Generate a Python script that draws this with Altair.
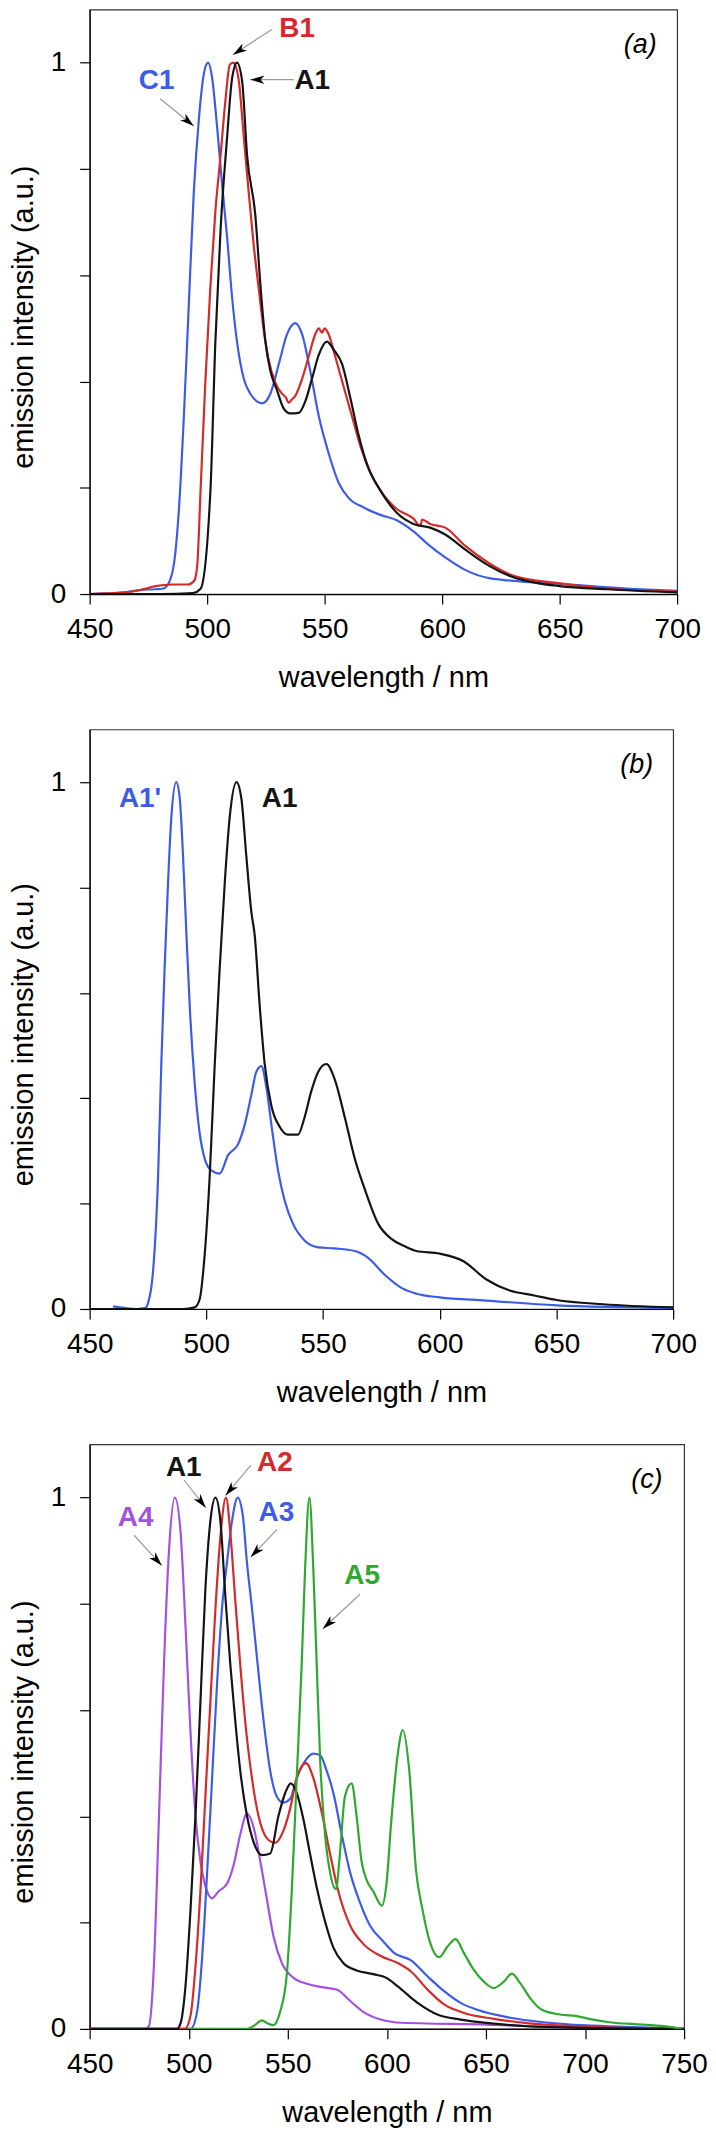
import math
import altair as alt
import pandas as pd

FONT = "Liberation Sans"
BLACK = "#141414"
RED = "#d42a2a"
BLUE = "#3d5ce6"
PURPLE = "#a352e0"
GREEN = "#2ea82e"
GRAY = "#9a9a9a"

# ---------------- panel (a) ----------------
a_A1_wl = [450, 480, 494, 497.2, 501.4, 503.5, 505.7, 508.5, 510.6, 512.7, 514.9, 517.0, 520.5, 522.7,
           524.8, 526.9, 529.7, 532.6, 535.4, 539.0, 541.8, 544.6, 547.5, 551.0, 553.8, 557.4, 560.9,
           564.4, 568.0, 573.7, 580.7, 587.8, 594.9, 601.3, 610, 620, 630, 640, 650, 670, 700]
a_A1_I = [0, 0, 0.002, 0.01, 0.195, 0.475, 0.685, 0.86, 0.97, 1.0, 0.965, 0.825, 0.713, 0.58,
          0.475, 0.42, 0.384, 0.349, 0.34, 0.341, 0.363, 0.405, 0.45, 0.475, 0.46, 0.433, 0.37,
          0.30, 0.244, 0.195, 0.153, 0.132, 0.125, 0.112, 0.083, 0.053, 0.032, 0.021, 0.015, 0.009, 0.003]

a_B1_wl = [450, 465, 472, 478, 485, 492, 494.5, 495.8, 497.2, 499.3, 501.4, 503.5, 505.7, 507.8, 509.6,
           511, 512, 513.5, 515.6, 517.7, 519.8, 522, 524.1, 526.2, 529, 531.9, 533.5, 534.7, 536,
           537.5, 540.4, 543.2, 546, 547.5, 548.9, 550, 551.7, 554.5, 558.1, 561.6, 565.2, 569.4,
           573.7, 580.7, 587.8, 590.7, 591.5, 594.9, 601.3, 610, 620, 630, 650, 670, 700]
a_B1_I = [0, 0.003, 0.008, 0.015, 0.018, 0.018, 0.025, 0.055, 0.195, 0.405, 0.58, 0.72, 0.825, 0.93, 0.996,
          1.0, 0.995, 0.965, 0.86, 0.755, 0.657, 0.573, 0.496, 0.44, 0.398, 0.377, 0.37, 0.36, 0.366,
          0.373, 0.405, 0.447, 0.489, 0.5, 0.492, 0.5, 0.489, 0.447, 0.39, 0.335, 0.279, 0.23,
          0.195, 0.16, 0.142, 0.128, 0.14, 0.132, 0.125, 0.09, 0.058, 0.035, 0.02, 0.01, 0.005]

a_C1_wl = [450, 465, 472, 478, 481, 483, 485.8, 488, 490.1, 492.2, 494.3, 496.5, 498.6, 500.4, 502.1,
           504.2, 506.4, 508.5, 510.6, 512.7, 515.6, 518.4, 523.4, 526.9, 530.5, 534, 537.5, 540.4,
           543.9, 547.5, 551.7, 556, 560.2, 566.6, 573.7, 580.7, 587.8, 594.9, 601.3, 610, 620, 650,
           680, 700]
a_C1_I = [0, 0.003, 0.008, 0.009, 0.01, 0.016, 0.055, 0.16, 0.335, 0.545, 0.755, 0.895, 0.979, 1.0, 0.972,
          0.881, 0.769, 0.671, 0.559, 0.475, 0.405, 0.377, 0.359, 0.377, 0.433, 0.489, 0.51, 0.489,
          0.419, 0.335, 0.265, 0.209, 0.181, 0.163, 0.149, 0.139, 0.118, 0.09, 0.069, 0.045, 0.03, 0.019,
          0.01, 0.006]

a_lab_text = ["C1", "B1", "A1"]
a_lab_x = [478.5, 538.3, 544.7]
a_lab_y = [0.966, 1.064, 0.966]
a_lab_col = [BLUE, RED, BLACK]
a_arr_x1 = [480.0, 527.7, 536.8]
a_arr_y1 = [0.932, 1.063, 0.968]
a_arr_x2 = [494.3, 511.0, 518.4]
a_arr_y2 = [0.881, 1.015, 0.968]

# ---------------- panel (b) ----------------
b_A1p_wl = [460, 465, 470, 474, 475, 477.1, 479.3, 480.7, 482.1, 483.6, 485, 487.1, 488.6, 490, 491.4,
            492.9, 495, 497.1, 499.3, 502.1, 505.7, 509.3, 513.6, 516.4, 519.3, 521.4, 523.6, 525.7,
            527.9, 530.7, 533.6, 537.1, 542.1, 547.9, 555, 563.6, 569.3, 576.4, 583.6, 590, 600, 620,
            650, 700]
b_A1p_I = [0.005, 0.002, 0, 0.002, 0.011, 0.068, 0.249, 0.465, 0.645, 0.81, 0.933, 1.0, 0.969, 0.861, 0.717,
           0.573, 0.429, 0.335, 0.285, 0.263, 0.257, 0.292, 0.313, 0.349, 0.407, 0.45, 0.461, 0.421,
           0.349, 0.263, 0.205, 0.162, 0.13, 0.117, 0.115, 0.11, 0.097, 0.065, 0.04, 0.029, 0.022, 0.016,
           0.007, 0.002]

b_A1_wl = [450, 490, 495, 497.1, 499.3, 501.4, 503.6, 505.7, 507.9, 510, 512.9, 515, 517.1, 519.3, 520.7,
           522.9, 525, 527.9, 531.4, 535, 539.3, 542.1, 545, 547.9, 551.4, 555, 559.3, 563.6, 567.9,
           573.6, 579.3, 585, 590, 600, 610, 620, 630, 640, 650, 670, 700]
b_A1_I = [0, 0, 0.003, 0.018, 0.104, 0.249, 0.465, 0.645, 0.81, 0.933, 1.0, 0.969, 0.861, 0.753, 0.71,
          0.573, 0.465, 0.385, 0.346, 0.331, 0.331, 0.364, 0.414, 0.45, 0.465, 0.436, 0.364, 0.285, 0.227,
          0.162, 0.133, 0.119, 0.11, 0.105, 0.091, 0.056, 0.035, 0.026, 0.017, 0.009, 0.003]

b_lab_text = ["A1'", "A1"]
b_lab_x = [471.6, 531.4]
b_lab_y = [0.967, 0.967]
b_lab_col = [BLUE, BLACK]

# ---------------- panel (c) ----------------
c_A4_wl = [450, 478, 479.9, 482.4, 485, 487.5, 490, 493, 495.9, 498.4, 500.9, 503.4, 505.9, 509.3, 511.8,
           515.1, 519.3, 522.7, 526, 529.4, 532.7, 536.1, 539.4, 542.8, 547, 552.9, 559.6, 567.9, 574.6,
           581.4, 588.1, 596.4, 604.8, 650, 700, 750]
c_A4_I = [0, 0, 0.005, 0.117, 0.401, 0.685, 0.898, 1.0, 0.934, 0.756, 0.558, 0.401, 0.316, 0.259, 0.246,
          0.259, 0.273, 0.309, 0.366, 0.405, 0.38, 0.316, 0.245, 0.174, 0.124, 0.096, 0.085, 0.078, 0.074,
          0.053, 0.032, 0.018, 0.012, 0.008, 0.002, 0]

c_A1_wl = [450, 494, 495.9, 498.4, 500.9, 503.4, 505.9, 508.4, 510.9, 513.5, 516.0, 518.5, 521.0, 523.5,
           526.0, 529.4, 532.7, 536.9, 541.1, 545.3, 548.7, 551.5, 554.5, 557.9, 561.2, 564.6, 568.8,
           573.0, 578.0, 584.7, 593.1, 599.8, 605.5, 615.5, 625.5, 637.2, 654, 670.6, 700, 750]
c_A1_I = [0, 0, 0.011, 0.082, 0.224, 0.401, 0.614, 0.827, 0.955, 1.0, 0.955, 0.813, 0.685, 0.579,
          0.486, 0.401, 0.352, 0.327, 0.33, 0.401, 0.444, 0.462, 0.444, 0.394, 0.33, 0.266, 0.202,
          0.153, 0.124, 0.11, 0.103, 0.096, 0.08, 0.049, 0.027, 0.0175, 0.01, 0.005, 0.002, 0]

c_A2_wl = [450, 498, 500.9, 503.4, 505.9, 508.4, 510.9, 513.5, 516.0, 518.8, 521.0, 523.5, 526.0, 528.5,
           531.9, 535.2, 539.4, 543.6, 547.8, 551.2, 554.5, 559.2, 562.9, 567.1, 571.3, 575.5, 581.4,
           588.1, 596.4, 605.5, 612.2, 620.5, 628.9, 638.9, 654, 670.6, 695.7, 750]
c_A2_I = [0, 0, 0.025, 0.117, 0.259, 0.437, 0.614, 0.792, 0.927, 1.0, 0.934, 0.806, 0.685, 0.579,
          0.472, 0.401, 0.359, 0.35, 0.373, 0.415, 0.472, 0.5, 0.472, 0.408, 0.33, 0.259, 0.195,
          0.16, 0.138, 0.124, 0.108, 0.074, 0.046, 0.03, 0.019, 0.011, 0.005, 0]

c_A3_wl = [450, 501, 504.2, 506.7, 509.3, 511.8, 514.3, 516.8, 519.3, 521.8, 524.7, 527.2, 529.4, 531.9,
           534.4, 537.8, 541.1, 544.5, 547.8, 551.2, 554.5, 558.7, 562.9, 566.3, 569.6, 573.0, 577.2,
           581.4, 586.4, 591.4, 598.1, 603.8, 612.2, 620.5, 628.9, 637.2, 645.6, 662.3, 679, 704, 737.5, 750]
c_A3_I = [0, 0, 0.032, 0.131, 0.295, 0.472, 0.65, 0.792, 0.877, 0.955, 1.0, 0.969, 0.877, 0.792,
          0.7, 0.579, 0.486, 0.437, 0.426, 0.433, 0.472, 0.504, 0.518, 0.515, 0.486, 0.444, 0.366,
          0.295, 0.238, 0.195, 0.165, 0.1425, 0.129, 0.099, 0.071, 0.049, 0.036, 0.021, 0.0125, 0.006, 0.002, 0]

c_A5_wl = [500, 529.4, 533, 536.9, 540, 542.8, 546.1, 549.5, 552.0, 554.5, 557.0, 558.7, 560.9, 562.9,
           564.6, 566.3, 568.8, 571.3, 574.3, 576.3, 578.8, 582.2, 584.7, 587.2, 589.7, 593.1, 597.5,
           599.8, 602.2, 605.5, 608, 611.3, 614.7, 618, 621.4, 626.4, 630.6, 634.7, 638.9, 643.9, 648.9,
           653.9, 659, 663.1, 667.3, 672.3, 678.2, 687.4, 695.7, 704.1, 712.4, 729.1, 742.5, 749.2]
c_A5_I = [0, 0, 0.006, 0.016, 0.01, 0.007, 0.032, 0.103, 0.259, 0.472, 0.685, 0.863, 1.0, 0.863,
          0.685, 0.508, 0.366, 0.295, 0.263, 0.33, 0.437, 0.462, 0.401, 0.316, 0.281, 0.259, 0.232,
          0.273, 0.39, 0.5175, 0.5625, 0.486, 0.299, 0.224, 0.1675, 0.135, 0.155, 0.169, 0.1425, 0.111, 0.089,
          0.077, 0.089, 0.104, 0.086, 0.058, 0.036, 0.027, 0.024, 0.0175, 0.0125, 0.008, 0.004, 0]

c_lab_text = ["A1", "A2", "A3", "A4", "A5"]
c_lab_x = [497.5, 543.5, 544.2, 473.2, 587.5]
c_lab_y = [1.056, 1.064, 0.971, 0.961, 0.853]
c_lab_col = [BLACK, RED, BLUE, PURPLE, GREEN]
c_arr_x1 = [497.6, 531.4, 544.6, 472.4, 586.4]
c_arr_y1 = [1.033, 1.061, 0.94, 0.929, 0.818]
c_arr_x2 = [508.6, 518.6, 531.3, 486.4, 567.7]
c_arr_y2 = [0.981, 1.004, 0.888, 0.872, 0.753]

ARROW_PATH = "M0,0L-2,-0.6L-1.45,0L-2,0.6Z"


def panel(series, lab_text, lab_x, lab_y, lab_col, arrows, letter, letter_x, xmax, width, height):
    xs = alt.Scale(domain=[450, xmax], nice=False, zero=False)
    ys = alt.Scale(domain=[0, 1.1], nice=False, zero=False)
    xaxis = alt.Axis(values=list(range(450, xmax + 1, 50)), format="d", title="wavelength / nm",
                     labelFlush=False, labelOverlap=False)
    yaxis = alt.Axis(values=[0, 0.2, 0.4, 0.6, 0.8, 1.0],
                     labelExpr="datum.value == 0 ? '0' : (datum.value == 1 ? '1' : '')",
                     title="emission intensity (a.u.)", titleY=height / 2 + 15,
                     labelFlush=False, labelOverlap=False)

    def X(f):
        return alt.X(f, type="quantitative", scale=xs, axis=xaxis)

    def Y(f):
        return alt.Y(f, type="quantitative", scale=ys, axis=yaxis)

    layers = []
    for wl, inten, color in series:
        df = pd.DataFrame({"x": wl, "y": inten})
        layers.append(alt.Chart(df).mark_line(color=color, strokeWidth=2.2, interpolate="monotone", clip=True)
                      .encode(x=X("x"), y=Y("y")))
    if arrows is not None:
        x1, y1, x2, y2 = arrows
        px_nm = width / (xmax - 450)
        px_u = height / 1.1
        ang = [math.degrees(math.atan2(-(b2 - b1) * px_u, (a2 - a1) * px_nm)) % 360
               for a1, b1, a2, b2 in zip(x1, y1, x2, y2)]
        adf = pd.DataFrame({"x": x1, "y": y1, "x2": x2, "y2": y2, "ang": ang})
        layers.append(alt.Chart(adf).mark_rule(color=GRAY, strokeWidth=1.2)
                      .encode(x=X("x"), y=Y("y"), x2="x2:Q", y2="y2:Q"))
        layers.append(alt.Chart(adf).mark_point(shape=ARROW_PATH, filled=True, size=200, color="black",
                                                opacity=1, strokeWidth=0)
                      .encode(x=X("x2"), y=Y("y2"), angle=alt.Angle("ang:Q", scale=None)))
    ldf = pd.DataFrame({"x": lab_x, "y": lab_y, "t": lab_text, "c": lab_col})
    layers.append(alt.Chart(ldf).mark_text(font=FONT, fontSize=28, fontWeight="bold", align="center",
                                           baseline="middle")
                  .encode(x=X("x"), y=Y("y"), text="t:N", color=alt.Color("c:N", scale=None)))
    pdf = pd.DataFrame({"x": [letter_x], "y": [1.033], "t": [letter]})
    layers.append(alt.Chart(pdf).mark_text(font=FONT, fontSize=27, fontStyle="italic", align="center",
                                           baseline="middle", color="black")
                  .encode(x=X("x"), y=Y("y"), text="t:N"))
    return alt.layer(*layers).properties(width=width, height=height)


pa = panel([(a_C1_wl, a_C1_I, BLUE), (a_B1_wl, a_B1_I, RED), (a_A1_wl, a_A1_I, BLACK)],
           a_lab_text, a_lab_x, a_lab_y, a_lab_col,
           (a_arr_x1, a_arr_y1, a_arr_x2, a_arr_y2), "(a)", 684.3, 700, 590, 587)
pb = panel([(b_A1p_wl, b_A1p_I, BLUE), (b_A1_wl, b_A1_I, BLACK)],
           b_lab_text, b_lab_x, b_lab_y, b_lab_col, None, "(b)", 684.4, 700, 586, 582)
pc = panel([(c_A4_wl, c_A4_I, PURPLE), (c_A3_wl, c_A3_I, BLUE), (c_A2_wl, c_A2_I, RED),
            (c_A1_wl, c_A1_I, BLACK), (c_A5_wl, c_A5_I, GREEN)],
           c_lab_text, c_lab_x, c_lab_y, c_lab_col,
           (c_arr_x1, c_arr_y1, c_arr_x2, c_arr_y2), "(c)", 731.2, 750, 597, 587)

chart = (alt.vconcat(pa, pb, pc, spacing=136, bounds="flush")
         .properties(padding={"left": 0, "top": -4, "right": 0, "bottom": 0}, background="white")
         .configure_view(stroke="#333333", strokeWidth=1.2)
         .configure_axis(labelFont=FONT, titleFont=FONT, labelFontSize=28, titleFontSize=29,
                         titleFontWeight="normal", tickSize=10, tickColor="black", domainColor="black",
                         labelColor="black", titleColor="black", grid=False, domainWidth=1.2, tickWidth=1.2)
         .configure_axisX(labelPadding=12, titlePadding=20)
         .configure_axisY(labelPadding=14, titlePadding=12))

chart.save("out.html", embed_options={"renderer": "svg", "actions": False})
